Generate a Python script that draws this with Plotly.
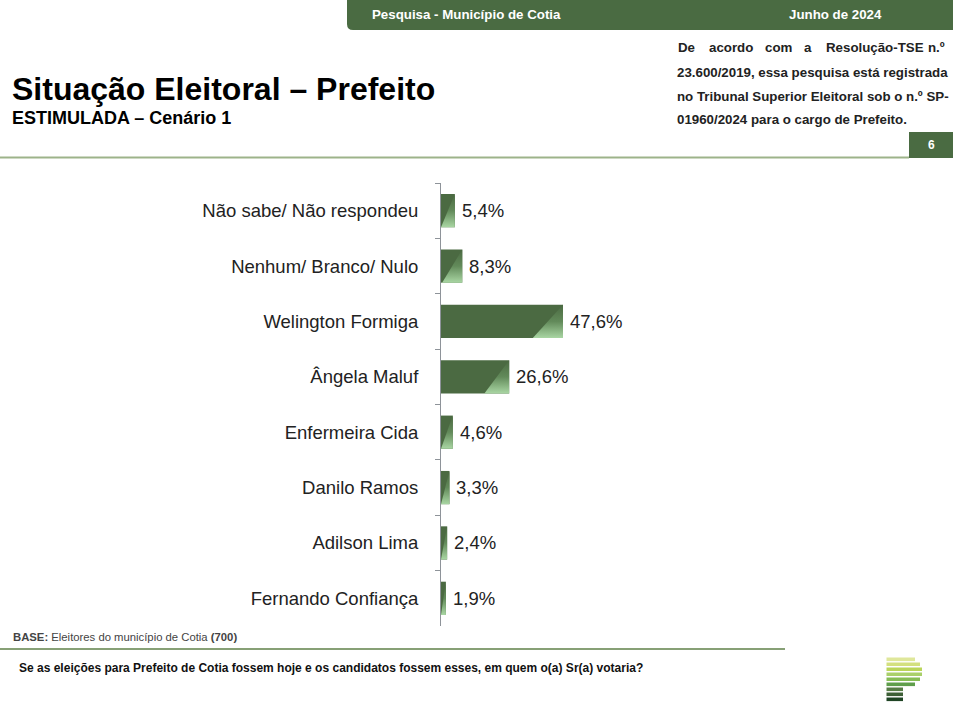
import plotly.graph_objects as go

# ---------------- data ----------------
categories = [
    "Não sabe/ Não respondeu",
    "Nenhum/ Branco/ Nulo",
    "Welington Formiga",
    "Ângela Maluf",
    "Enfermeira Cida",
    "Danilo Ramos",
    "Adilson Lima",
    "Fernando Confiança",
]
values = [5.4, 8.3, 47.6, 26.6, 4.6, 3.3, 2.4, 1.9]

header_left = "Pesquisa - Município de Cotia"
header_right = "Junho de 2024"
title = "Situação Eleitoral – Prefeito"
subtitle = "ESTIMULADA – Cenário 1"
note_line1 = ["De", "acordo", "com", "a", "Resolução-TSE", "n.º"]
note_lines = [
    "23.600/2019, essa pesquisa está registrada",
    "no Tribunal Superior Eleitoral sob o n.º SP-",
    "01960/2024 para o cargo de Prefeito.",
]
page_number = "6"
base_text = "<b>BASE:</b> Eleitores do município de Cotia <b>(700)</b>"
question = "Se as eleições para Prefeito de Cotia fossem hoje e os candidatos fossem esses, em quem o(a) Sr(a) votaria?"

# ---------------- layout helpers ----------------
W, H = 953, 711
FONT = "Liberation Sans, Arial, sans-serif"
GREEN = "#4a6b42"
BAR_DARK = "#4b6a42"
PX_PER_UNIT = 2.563
BAR_W = 0.6


def px(x):
    return x / W


def py(y):
    return 1 - y / H


fig = go.Figure()

fig.add_trace(go.Bar(
    y=categories,
    x=values,
    orientation="h",
    marker=dict(color=BAR_DARK, line=dict(width=0)),
    width=BAR_W,
    hoverinfo="skip",
))

# light corner sheen on each bar (bottom-right triangle, derived from the bar value)
for i, v in enumerate(values):
    bar_px = v * PX_PER_UNIT
    w = min(bar_px, 18 + 0.1 * bar_px) / PX_PER_UNIT
    top, bot = i - BAR_W / 2, i + BAR_W / 2
    fig.add_trace(go.Scatter(
        x=[v, v, v - w, v], y=[top, bot, bot, top],
        yaxis="y2", mode="lines", line=dict(width=0),
        fill="toself",
        fillgradient=dict(type="vertical", start=top, stop=bot,
                          colorscale=[[0, BAR_DARK], [0.5, "#628a5a"], [1, "#a9d6a3"]]),
        hoverinfo="skip",
    ))

annotations = []
# value labels
for c, v in zip(categories, values):
    annotations.append(dict(
        x=v, y=c, xref="x", yref="y", text=f"{v:.1f}%".replace(".", ","),
        showarrow=False, xanchor="left", xshift=5,
        font=dict(family=FONT, size=18.5, color="#222222"),
    ))

# header texts
annotations.append(dict(x=px(466), y=py(14), xref="paper", yref="paper", text=f"<b>{header_left}</b>",
                        showarrow=False, xanchor="center", yanchor="middle",
                        font=dict(family=FONT, size=13.3, color="white")))
annotations.append(dict(x=px(835), y=py(14), xref="paper", yref="paper", text=f"<b>{header_right}</b>",
                        showarrow=False, xanchor="center", yanchor="middle",
                        font=dict(family=FONT, size=13.3, color="white")))
# title
annotations.append(dict(x=px(10), y=py(89), xref="paper", yref="paper", text=f"<b>{title}</b>",
                        showarrow=False, xanchor="left", yanchor="middle",
                        font=dict(family=FONT, size=32, color="black")))
annotations.append(dict(x=px(10), y=py(118), xref="paper", yref="paper", text=f"<b>{subtitle}</b>",
                        showarrow=False, xanchor="left", yanchor="middle",
                        font=dict(family=FONT, size=18, color="black")))
# justified note, line 1 word by word (equal gaps)
word_x = [676, 707, 763, 802, 824, 947]
word_anchor = ["left", "left", "left", "left", "left", "right"]
for wd, wx, wa in zip(note_line1, word_x, word_anchor):
    annotations.append(dict(x=px(wx), y=py(48), xref="paper", yref="paper", text=f"<b>{wd}</b>",
                            showarrow=False, xanchor=wa,
                            yanchor="middle", font=dict(family=FONT, size=13.3, color="#222222")))
for ln, ly in zip(note_lines, [72.5, 96, 119]):
    annotations.append(dict(x=px(675), y=py(ly), xref="paper", yref="paper", text=f"<b>{ln}</b>",
                            showarrow=False, xanchor="left", yanchor="middle",
                            font=dict(family=FONT, size=13.3, color="#222222")))
# page number
annotations.append(dict(x=px(931), y=py(145), xref="paper", yref="paper", text=f"<b>{page_number}</b>",
                        showarrow=False, xanchor="center", yanchor="middle",
                        font=dict(family=FONT, size=12, color="white")))
# base
annotations.append(dict(x=px(11), y=py(637), xref="paper", yref="paper", text=base_text,
                        showarrow=False, xanchor="left", yanchor="middle",
                        font=dict(family=FONT, size=11.3, color="#444444")))
# question
annotations.append(dict(x=px(17), y=py(668), xref="paper", yref="paper", text=f"<b>{question}</b>",
                        showarrow=False, xanchor="left", yanchor="middle",
                        font=dict(family=FONT, size=12, color="#111111")))

shapes = []
# header bar with rounded bottom-left corner
shapes.append(dict(
    type="path", xref="paper", yref="paper",
    path=(f"M {px(347)},{py(0)} L {px(953)},{py(0)} L {px(953)},{py(30)} "
          f"L {px(353)},{py(30)} Q {px(347)},{py(30)} {px(347)},{py(24)} Z"),
    fillcolor=GREEN, line=dict(width=0), layer="below",
))
# page box
shapes.append(dict(type="rect", xref="paper", yref="paper", x0=px(909), x1=px(953), y0=py(132), y1=py(158),
                   fillcolor=GREEN, line=dict(width=0), layer="below"))
# top separator
shapes.append(dict(type="line", xref="paper", yref="paper", x0=0, x1=px(909), y0=py(157.5), y1=py(157.5),
                   line=dict(color="#9db38a", width=2)))
# bottom separator
shapes.append(dict(type="line", xref="paper", yref="paper", x0=0, x1=px(785), y0=py(649), y1=py(649),
                   line=dict(color="#5f8148", width=1.3)))
# logo stripes
logo_colors = ["#dfe79b", "#d3e07f", "#bad55a", "#a9d06a", "#86bd55", "#5f9e4b", "#567c45", "#3d5f36", "#1f4424"]
logo_ends = [915, 920, 922, 922, 920, 915, 903, 903, 903]
for i, (col, xe) in enumerate(zip(logo_colors, logo_ends)):
    yt = 657.5 + i * 5
    shapes.append(dict(type="rect", xref="paper", yref="paper", x0=px(886.5), x1=px(xe),
                       y0=py(yt), y1=py(yt + 3.6), fillcolor=col, line=dict(width=0)))

n = len(categories)
fig.update_layout(
    width=W, height=H,
    margin=dict(l=0, r=0, t=0, b=0),
    paper_bgcolor="white", plot_bgcolor="white",
    showlegend=False,
    separators=",.",
    font=dict(family=FONT, color="#222222"),
    xaxis=dict(domain=[px(441), px(441 + 256.3)], range=[0, 100], visible=False, fixedrange=True),
    yaxis=dict(
        domain=[py(626), py(183)],
        range=[n - 0.5, -0.5],
        showline=True, linecolor="#8e9399", linewidth=1,
        ticks="outside", tickson="boundaries", ticklen=5, tickcolor="#8e9399",
        ticklabelstandoff=18,
        tickfont=dict(family=FONT, size=18.5, color="#222222"),
        showgrid=False, zeroline=False, fixedrange=True,
    ),
    yaxis2=dict(overlaying="y", range=[n - 0.5, -0.5], visible=False, fixedrange=True),
    annotations=annotations,
    shapes=shapes,
)

fig.write_html("out.html", config={"displayModeBar": False},
               post_script="document.body.style.margin='0px';document.body.style.overflow='hidden';")
